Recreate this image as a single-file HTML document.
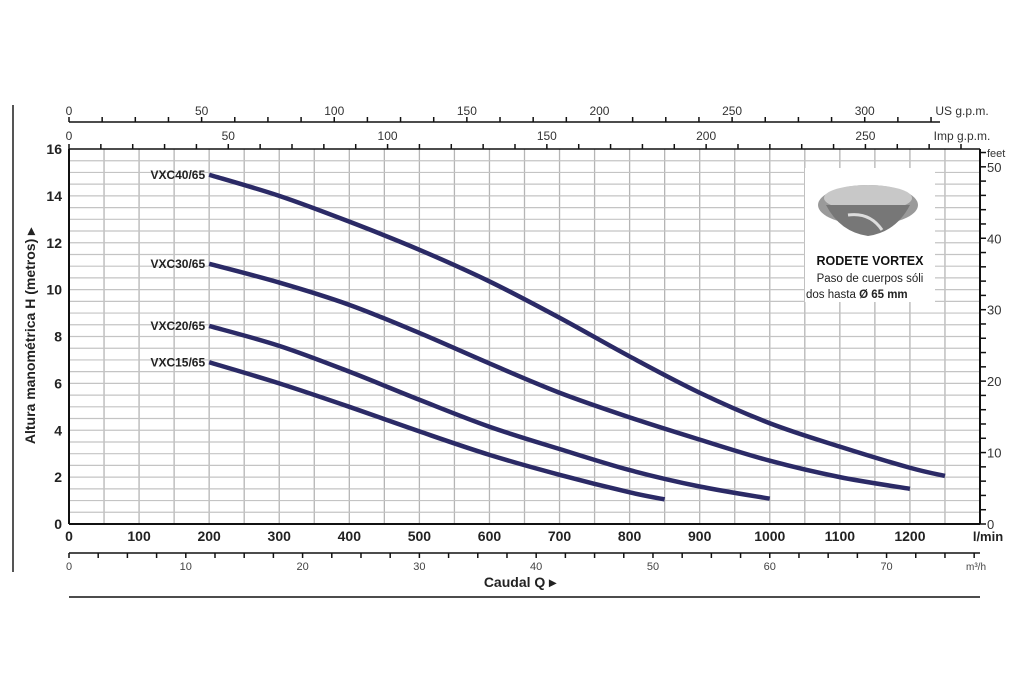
<!DOCTYPE html>
<html><head><meta charset="utf-8"><style>
body{margin:0;background:#fff;}
svg{display:block;font-family:"Liberation Sans",sans-serif;}
</style></head><body>
<svg id="chart" width="1024" height="683" viewBox="0 0 1024 683" xmlns="http://www.w3.org/2000/svg">
<g id="grid"></g>
<g id="axes"></g>
<g id="image-box">
 <rect x="805" y="168" width="130" height="134" fill="#fff"/>
 <ellipse cx="868" cy="205" rx="50" ry="20" fill="#9a9a9a"/>
 <ellipse cx="868" cy="198" rx="44" ry="13" fill="#c8c8c8"/>
 <path d="M826 205 Q840 232 868 236 Q896 232 910 205 Z" fill="#777"/>
 <path d="M848 215 Q870 212 882 230" stroke="#ddd" stroke-width="3" fill="none"/>
 <text x="870" y="265" text-anchor="middle" font-size="12.5" font-weight="bold" fill="#111">RODETE VORTEX</text>
 <text x="870" y="282" text-anchor="middle" font-size="11.5" fill="#222">Paso de cuerpos sóli</text>
 <text x="806" y="298" font-size="11.5" fill="#222">dos hasta <tspan font-weight="bold">Ø 65 mm</tspan></text>
</g>
<g id="curves"></g>
</svg>
<script>
const qVXC40=[200,300,400,500,600,700,800,900,1000,1100,1200,1250];
const hVXC40=[14.9,14.0,12.9,11.7,10.35,8.8,7.15,5.6,4.3,3.3,2.4,2.05];
const qVXC30=[200,300,400,500,600,700,800,900,1000,1100,1200];
const hVXC30=[11.1,10.3,9.35,8.15,6.85,5.6,4.55,3.6,2.7,2.0,1.5];
const qVXC20=[200,300,400,500,600,700,800,900,1000];
const hVXC20=[8.45,7.6,6.5,5.3,4.15,3.2,2.3,1.6,1.08];
const qVXC15=[200,300,400,500,600,700,800,850];
const hVXC15=[6.9,6.0,5.0,3.95,2.95,2.1,1.35,1.05];
const seriesNames=["VXC40/65","VXC30/65","VXC20/65","VXC15/65"];
const yTicks=[0,2,4,6,8,10,12,14,16];
const xTicks=[0,100,200,300,400,500,600,700,800,900,1000,1100,1200];
const m3hTicks=[0,10,20,30,40,50,60,70];
const usTicks=[0,50,100,150,200,250,300];
const impTicks=[0,50,100,150,200,250];
const feetTicks=[0,10,20,30,40,50];

const NS="http://www.w3.org/2000/svg";
const X0=69,X1=980,Y0=524,Y1=149,QMAX=1300,HMAX=16;
const xs=q=>X0+q*(X1-X0)/QMAX;
const ys=h=>Y0-h*(Y0-Y1)/HMAX;
function mk(tag,attrs,parent,txt){const e=document.createElementNS(NS,tag);for(const k in attrs)e.setAttribute(k,attrs[k]);if(txt!==undefined)e.textContent=txt;parent.appendChild(e);return e;}
const grid=document.getElementById('grid'),axes=document.getElementById('axes'),curves=document.getElementById('curves');

for(let q=50;q<QMAX;q+=50){const l=mk('line',{x1:xs(q),x2:xs(q),y1:Y1,y2:Y0,stroke:'#b5b5b5','stroke-width':1.3},grid);

}
for(let h=0.5;h<HMAX;h+=0.5){const l=mk('line',{x1:X0,x2:X1,y1:ys(h),y2:ys(h),stroke:'#c4c4c4','stroke-width':1.2},grid);

}

mk('line',{x1:X0,x2:X0,y1:Y1,y2:Y0,stroke:'#111','stroke-width':2},axes);
mk('line',{x1:X0,x2:X1,y1:Y0,y2:Y0,stroke:'#111','stroke-width':2},axes);
mk('line',{x1:X0,x2:X1,y1:Y1,y2:Y1,stroke:'#111','stroke-width':1.5},axes);
mk('line',{x1:X1,x2:X1,y1:Y1,y2:Y0,stroke:'#111','stroke-width':2},axes);
mk('line',{x1:13,x2:13,y1:105,y2:572,stroke:'#555','stroke-width':2},axes);
mk('line',{x1:X0,x2:X1,y1:597,y2:597,stroke:'#111','stroke-width':1.5},axes);

yTicks.forEach(v=>{const t=mk('text',{x:62,y:ys(v)+5,'text-anchor':'end','font-size':14,'font-weight':'bold',fill:'#222'},axes,v);

});
xTicks.forEach(v=>{const t=mk('text',{x:xs(v),y:541,'text-anchor':'middle','font-size':14,'font-weight':'bold',fill:'#222'},axes,v);

});
mk('text',{x:988,y:541,'text-anchor':'middle','font-size':13,'font-weight':'bold',fill:'#222'},axes,'l/min');

const YM=553;
mk('line',{x1:X0,x2:X1,y1:YM,y2:YM,stroke:'#111','stroke-width':1.5},axes);
const m3=v=>xs(v*1000/60);
for(let v=0;m3(v)<=X1+1;v+=2.5){mk('line',{x1:m3(v),x2:m3(v),y1:YM,y2:YM+5,stroke:'#111','stroke-width':1.5},axes);}
m3hTicks.forEach(v=>{const t=mk('text',{x:m3(v),y:570,'text-anchor':'middle','font-size':11,fill:'#444'},axes,v);

});
mk('text',{x:976,y:570,'text-anchor':'middle','font-size':10,fill:'#444'},axes,'m³/h');
mk('text',{x:520,y:587,'text-anchor':'middle','font-size':14,'font-weight':'bold',fill:'#222'},axes,'Caudal Q ▸');

const YU=122, us=v=>xs(v*3.785);
mk('line',{x1:X0,x2:940,y1:YU,y2:YU,stroke:'#111','stroke-width':1.5},axes);
for(let v=0;us(v)<=940;v+=12.5){mk('line',{x1:us(v),x2:us(v),y1:YU,y2:YU-5,stroke:'#111','stroke-width':1.5},axes);}
usTicks.forEach(v=>{const t=mk('text',{x:us(v),y:115,'text-anchor':'middle','font-size':12,fill:'#333'},axes,v);

});
mk('text',{x:962,y:115,'text-anchor':'middle','font-size':12,fill:'#333'},axes,'US g.p.m.');
const im=v=>xs(v*4.546);
for(let v=0;im(v)<=X1;v+=10){mk('line',{x1:im(v),x2:im(v),y1:Y1,y2:Y1-5,stroke:'#111','stroke-width':1.5},axes);}
impTicks.forEach(v=>{const t=mk('text',{x:im(v),y:140,'text-anchor':'middle','font-size':12,fill:'#333'},axes,v);

});
mk('text',{x:962,y:140,'text-anchor':'middle','font-size':12,fill:'#333'},axes,'Imp g.p.m.');

const ft=v=>ys(v*0.3048);
for(let v=0;ft(v)>=Y1-1;v+=2){mk('line',{x1:X1,x2:X1+6,y1:ft(v),y2:ft(v),stroke:'#111','stroke-width':1.5},axes);}
feetTicks.forEach(v=>{const t=mk('text',{x:X1+7,y:ft(v)+5,'font-size':13,fill:'#333'},axes,v);

});
mk('text',{x:X1+7,y:157,'font-size':11,fill:'#333'},axes,'feet');

const yt=mk('text',{transform:'translate(35,336) rotate(-90)','text-anchor':'middle','font-size':14,'font-weight':'bold',fill:'#222'},axes,'Altura manométrica H  (metros) ▸');



const data=[[qVXC40,hVXC40],[qVXC30,hVXC30],[qVXC20,hVXC20],[qVXC15,hVXC15]];
function smooth(pts){let d=`M${pts[0][0]},${pts[0][1]}`;for(let i=0;i<pts.length-1;i++){const p0=pts[Math.max(0,i-1)],p1=pts[i],p2=pts[i+1],p3=pts[Math.min(pts.length-1,i+2)];
const c1=[p1[0]+(p2[0]-p0[0])/6,p1[1]+(p2[1]-p0[1])/6],c2=[p2[0]-(p3[0]-p1[0])/6,p2[1]-(p3[1]-p1[1])/6];d+=` C${c1[0]},${c1[1]} ${c2[0]},${c2[1]} ${p2[0]},${p2[1]}`;}return d;}
data.forEach((s,i)=>{const pts=s[0].map((q,j)=>[xs(q),ys(s[1][j])]);
const p=mk('path',{d:smooth(pts),stroke:'#2b2a66','stroke-width':4.5,fill:'none'},curves);


const t=mk('text',{x:pts[0][0]-4,y:pts[0][1]+4,'text-anchor':'end','font-size':12,'font-weight':'bold',fill:'#222'},curves,seriesNames[i]);

});
</script>
</body></html>
